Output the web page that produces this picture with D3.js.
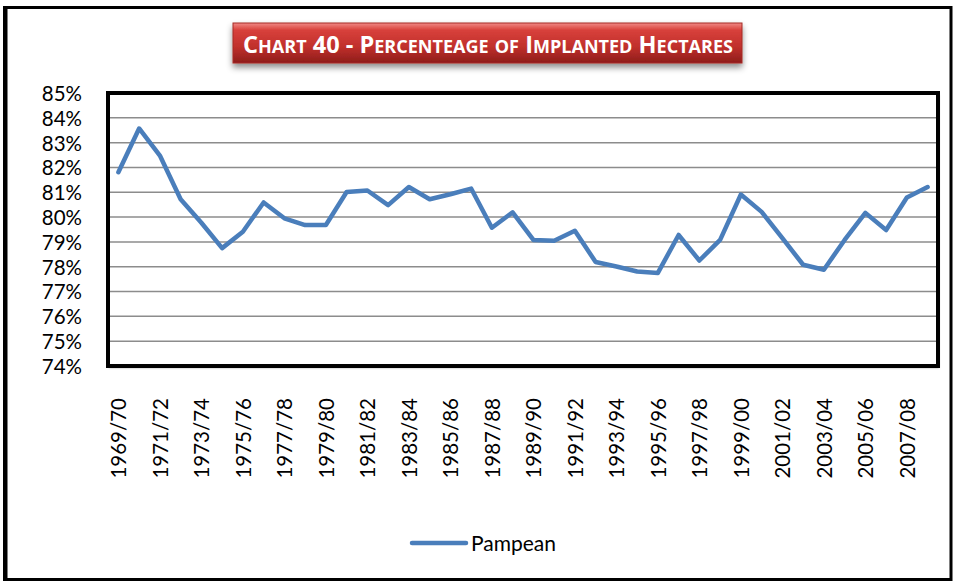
<!DOCTYPE html>
<html>
<head>
<meta charset="utf-8">
<script src="https://cdn.jsdelivr.net/npm/d3@7"></script>
<style>
  html, body { margin: 0; padding: 0; background: #fff; }
  svg { display: block; font-family: Lato, "Open Sans", "DejaVu Sans", sans-serif; }
</style>
</head>
<body>
<svg id="chart" width="958" height="583"></svg>
<script>
// Crop seasons on the category axis
const seasons = [
  "1969/70","1970/71","1971/72","1972/73","1973/74","1974/75","1975/76","1976/77",
  "1977/78","1978/79","1979/80","1980/81","1981/82","1982/83","1983/84","1984/85",
  "1985/86","1986/87","1987/88","1988/89","1989/90","1990/91","1991/92","1992/93",
  "1993/94","1994/95","1995/96","1996/97","1997/98","1998/99","1999/00","2000/01",
  "2001/02","2002/03","2003/04","2004/05","2005/06","2006/07","2007/08","2008/09"
];

// Share of implanted hectares in the Pampean region (%)
const pampean = [
  81.81, 83.57, 82.48, 80.72, 79.77, 78.75, 79.41, 80.59,
  79.95, 79.68, 79.68, 81.01, 81.07, 80.48, 81.21, 80.72,
  80.92, 81.15, 79.57, 80.19, 79.08, 79.05, 79.45, 78.19,
  78.01, 77.81, 77.75, 79.28, 78.25, 79.08, 80.91, 80.21,
  79.15, 78.08, 77.88, 79.08, 80.17, 79.48, 80.79, 81.21
];

// Value-axis ticks (%)
const yTicks = [74, 75, 76, 77, 78, 79, 80, 81, 82, 83, 84, 85];

// Title pieces: [text, isCapital]
const titleParts = [
  ["C", true], ["HART", false], [" 40 - ", true], ["P", true], ["ERCENTEAGE", false],
  [" ", true], ["OF", false], [" ", true], ["I", true], ["MPLANTED", false],
  [" ", true], ["H", true], ["ECTARES", false]
];

const seriesName = "Pampean";
const lineColor = "#4a7ebb";
const labelFont = "Lato, 'Open Sans', sans-serif";

const svg = d3.select("#chart");
const defs = svg.append("defs");

// Outer frame
svg.append("rect")
  .attr("x", 6).attr("y", 7.5).attr("width", 945).attr("height", 572)
  .attr("fill", "#fff").attr("stroke", "#000").attr("stroke-width", 3);
svg.append("line")
  .attr("x1", 5).attr("x2", 5).attr("y1", 6).attr("y2", 581)
  .attr("stroke", "#000").attr("stroke-width", 4);

// Title banner
const grad = defs.append("linearGradient").attr("id", "titleGrad")
  .attr("x1", 0).attr("y1", 0).attr("x2", 0).attr("y2", 1);
grad.append("stop").attr("offset", "0%").attr("stop-color", "#f08a86");
grad.append("stop").attr("offset", "18%").attr("stop-color", "#d8403b");
grad.append("stop").attr("offset", "60%").attr("stop-color", "#c0302c");
grad.append("stop").attr("offset", "100%").attr("stop-color", "#8e1d1a");

const shadow = defs.append("filter").attr("id", "titleShadow")
  .attr("x", "-10%").attr("y", "-30%").attr("width", "120%").attr("height", "180%");
shadow.append("feDropShadow").attr("dx", 0).attr("dy", 4).attr("stdDeviation", 3)
  .attr("flood-color", "#000").attr("flood-opacity", 0.45);

svg.append("rect")
  .attr("x", 233).attr("y", 23).attr("width", 509).attr("height", 40)
  .attr("fill", "url(#titleGrad)").attr("stroke", "#a52a26").attr("stroke-width", 1)
  .attr("filter", "url(#titleShadow)");

const title = svg.append("text")
  .attr("x", 243).attr("y", 53)
  .attr("fill", "#fff").attr("font-weight", 700)
  .attr("font-family", "'Open Sans', sans-serif")
  .attr("textLength", 490).attr("lengthAdjust", "spacingAndGlyphs");
titleParts.forEach(([t, cap]) => {
  title.append("tspan").attr("font-size", cap ? 23.5 : 18).text(t);
});

// Plot area
const plot = { left: 108, right: 938, top: 93, bottom: 366 };

const x = d3.scalePoint()
  .domain(seasons)
  .range([plot.left, plot.right])
  .padding(0.5);

const y = d3.scaleLinear()
  .domain([74, 85])
  .range([plot.bottom, plot.top]);

const plotShadow = defs.append("filter").attr("id", "plotShadow")
  .attr("x", "-5%").attr("y", "-5%").attr("width", "110%").attr("height", "115%");
plotShadow.append("feDropShadow").attr("dx", 1).attr("dy", 2).attr("stdDeviation", 1)
  .attr("flood-color", "#000").attr("flood-opacity", 0.35);

svg.append("rect")
  .attr("x", plot.left).attr("y", plot.top)
  .attr("width", plot.right - plot.left).attr("height", plot.bottom - plot.top)
  .attr("fill", "#fff").attr("filter", "url(#plotShadow)");

// Horizontal gridlines
svg.append("g")
  .selectAll("line")
  .data(yTicks.slice(1, -1))
  .join("line")
  .attr("x1", plot.left).attr("x2", plot.right)
  .attr("y1", d => y(d)).attr("y2", d => y(d))
  .attr("stroke", "#8c8c8c").attr("stroke-width", 1.5);

// Value axis labels
const yAxis = d3.axisLeft(y)
  .tickValues(yTicks)
  .tickFormat(d => d + "%")
  .tickSize(0)
  .tickPadding(0);
const yAxisG = svg.append("g")
  .attr("transform", `translate(82,0)`)
  .call(yAxis);
yAxisG.select(".domain").remove();
yAxisG.selectAll("text")
  .attr("font-family", labelFont)
  .attr("font-size", 20.5).attr("fill", "#000")
  .attr("dy", "0.36em");

// Category axis labels (every second season, rotated)
const xAxis = d3.axisBottom(x)
  .tickValues(seasons.filter((d, i) => i % 2 === 0))
  .tickSize(0)
  .tickPadding(0);
const xAxisG = svg.append("g")
  .attr("transform", `translate(0,398)`)
  .call(xAxis);
xAxisG.select(".domain").remove();
xAxisG.selectAll("text")
  .attr("font-family", labelFont)
  .attr("font-size", 20.5).attr("fill", "#000")
  .attr("transform", "rotate(-90)")
  .attr("text-anchor", "end")
  .attr("x", 0).attr("y", 0)
  .attr("dy", "0.36em");

// Series line
const line = d3.line()
  .x((d, i) => x(seasons[i]))
  .y(d => y(d));

svg.append("path")
  .datum(pampean)
  .attr("d", line)
  .attr("fill", "none")
  .attr("stroke", lineColor)
  .attr("stroke-width", 4.5)
  .attr("stroke-linejoin", "round")
  .attr("stroke-linecap", "round");

// Plot border
svg.append("rect")
  .attr("x", plot.left).attr("y", plot.top)
  .attr("width", plot.right - plot.left).attr("height", plot.bottom - plot.top)
  .attr("fill", "none").attr("stroke", "#000").attr("stroke-width", 4);

// Legend
const legend = svg.append("g").attr("transform", "translate(412,543)");
legend.append("line")
  .attr("x1", 0).attr("x2", 54).attr("y1", 0).attr("y2", 0)
  .attr("stroke", lineColor).attr("stroke-width", 4.5).attr("stroke-linecap", "round");
legend.append("text")
  .attr("x", 59).attr("y", 0).attr("dy", "0.36em")
  .attr("font-family", labelFont)
  .attr("font-size", 21).attr("fill", "#000")
  .text(seriesName);
</script>
</body>
</html>
